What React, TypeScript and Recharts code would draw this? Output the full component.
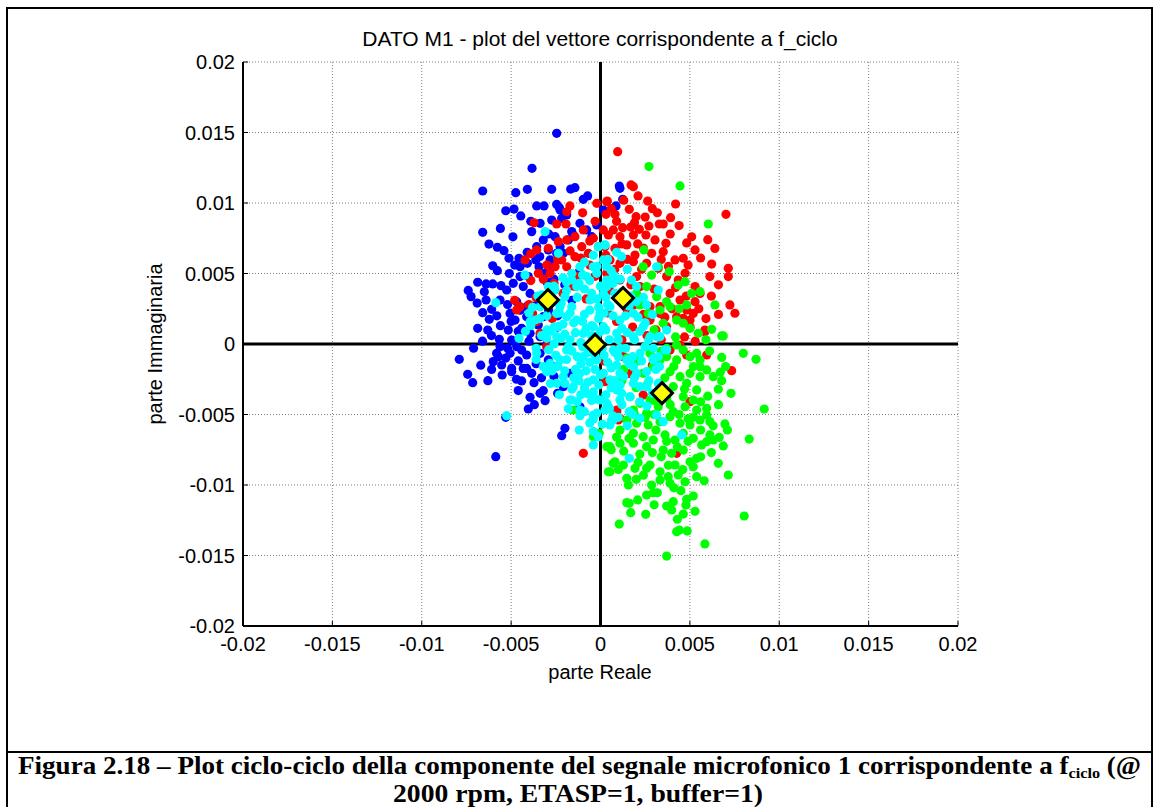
import React from 'react';
import {
  ScatterChart,
  Scatter,
  XAxis,
  YAxis,
  CartesianGrid,
  ReferenceLine,
} from 'recharts';

// all values are in units of 1e-3 (the axis labels show the real numbers)
const axisTicks = [-20, -15, -10, -5, 0, 5, 10, 15, 20];
const tickLabels = ['-0.02', '-0.015', '-0.01', '-0.005', '0', '0.005', '0.01', '0.015', '0.02'];

const blueCycles = [
  [-2.45, 14.94], [-3.83, 12.46], [-6.59, 10.85], [-4.74, 10.73], [-4.09, 10.97], [-2.73, 10.97],
  [-1.67, 10.99], [-1.43, 11.09], [-0.96, 10.26], [-0.72, 10.5], [-5.3, 9.45], [-4.84, 9.57],
  [-4.46, 9.08], [-3.57, 9.79], [-3.16, 9.79], [-2.45, 9.9], [-2.3, 9.67], [-6.59, 7.92],
  [-6.24, 7.09], [-5.77, 6.86], [-5.4, 6.62], [-6.03, 5.55], [-5.77, 5.2], [-6.87, 4.38],
  [-6.4, 4.26], [-6.03, 4.26], [-5.57, 4.14], [-7.24, 3.36], [-6.4, 3.12], [-6.09, 2.46],
  [-6.59, 2.22], [-6.22, 1.75], [-6.87, 1.11], [-6.31, 0.99], [-5.66, 0.33],
  [-5.12, 6.08], [-4.56, 6.08], [-4.09, 5.72], [-3.62, 5.96], [-3.44, 5.48], [-3.1, 5.01],
  [-2.64, 5.48], [-2.92, 6.67], [-2.45, 6.43], [-3.57, 6.9], [-4.5, 4.78], [-4.88, 4.3],
  [-5.25, 3.83], [-4.32, 4.07], [-3.94, 3.59], [-4.69, 3.0], [-4.13, 2.65], [-3.57, 2.77],
  [-3.2, 1.94], [-4.78, 1.7], [-4.41, 1.11], [-3.94, 0.76], [-3.38, 0.52], [-5.06, 2.17],
  [-5.62, 3.12], [-4.5, 5.48], [-4.04, 4.78], [-2.82, 5.96], [-2.26, 6.9], [-1.8, 7.38],
  [-2.08, 6.43], [-1.61, 7.97], [-1.15, 8.56], [-3.2, 7.38], [-3.85, 7.97], [-2.73, 8.79],
  [-2.17, 8.91], [-1.89, 9.15], [-2.26, 9.5], [-3.38, 8.56], [-1.52, 7.73], [-2.54, 7.61],
  [-4.13, 1.94], [-3.48, 1.35], [-5.16, 0.99], [-4.97, 0.28],
  [-7.9, -1.09], [-7.43, -2.15], [-7.15, -2.74], [-6.09, -1.8], [-6.0, -1.25], [-5.71, -0.9],
  [-5.53, -1.49], [-5.81, -0.66], [-5.62, -0.19], [-4.97, -1.73], [-4.97, -1.96], [-4.32, -1.73],
  [-4.13, -1.73], [-3.85, -2.08], [-4.41, -2.62], [-3.72, -2.74], [-3.38, -3.5], [-3.2, -3.31],
  [-3.1, -4.02], [-3.94, -3.78], [-4.04, -4.61], [-5.3, -5.2], [-5.86, -7.99], [-1.99, -5.98],
  [-2.17, -6.5], [-1.15, -4.45], [-4.41, -0.43], [-5.06, -0.66], [-4.69, -0.19], [-4.13, -0.78],
  [-3.38, -0.66], [-2.92, -1.13], [-2.64, -1.61], [-2.08, -3.03], [-1.7, -2.08],
  [1.09, 11.04], [1.24, 10.26], [0.87, 9.79], [0.16, 9.5], [1.05, 11.2], [-0.77, 8.09],
  [-0.49, 7.61], [-0.21, 8.44], [-2.0, 4.2], [-1.6, 3.1], [-2.4, 2.0], [-1.2, 5.1],
  [-2.9, 3.6], [-3.0, 4.4], [-6.9, 2.9], [-7.4, 3.8],
  [-6.6, 0.2], [-6.1, 0.6], [-7.1, -0.3], [-6.7, -1.5], [-5.2, -0.3], [-4.6, -1.2],
  [-3.6, -1.4], [-3.3, -2.4], [-2.6, -2.3], [-2.4, -3.5], [-4.7, -2.5], [-5.5, -2.2],
  [-6.3, -2.6], [-4.6, -3.3], [-3.7, -4.3], [-5.6, 1.3], [-5.0, 1.6], [-4.5, 2.4],
  [-5.2, 2.8], [-5.8, 2.0], [-6.5, 3.7], [-5.1, 5.0], [-4.8, 5.6], [-4.1, 6.5],
  [-3.4, 6.2], [-2.9, 7.8], [-3.9, 8.7], [-4.9, 7.6], [-5.6, 8.2], [-2.6, 4.6],
  [-3.3, 3.1], [-3.9, 2.0], [-2.9, 2.4], [-2.4, 1.2], [-3.0, 0.0], [-4.0, 0.2],
  [-4.6, 0.9], [-5.3, -1.0],
];

const redCycles = [
  [0.96, 13.64], [1.71, 11.28], [1.84, 11.16], [2.64, 10.14], [4.2, 9.93], [0.38, 10.14],
  [1.61, 9.55], [3.18, 9.31], [3.92, 8.96], [7.02, 9.2], [0.31, 9.2], [0.81, 9.2],
  [1.99, 9.03], [3.29, 8.51], [3.51, 8.51], [2.71, 8.37], [2.17, 8.13], [1.69, 8.29],
  [1.24, 8.25], [0.72, 8.09], [2.54, 7.73], [1.84, 7.73], [1.09, 7.61], [0.44, 7.73],
  [3.05, 7.38], [3.66, 7.14], [4.82, 7.17], [5.29, 6.67], [6.4, 6.78], [2.08, 7.1],
  [1.47, 7.03], [0.81, 6.78], [0.25, 6.9], [3.51, 6.55], [2.86, 6.43], [1.93, 6.31],
  [4.17, 5.96], [4.63, 6.08], [6.22, 5.67], [7.15, 5.37], [6.12, 4.78], [7.15, 4.78],
  [7.24, 2.77], [7.52, 2.18], [4.73, 5.01], [4.35, 4.54], [3.7, 4.78], [3.23, 5.37],
  [2.58, 5.72], [1.84, 5.84], [1.09, 5.72], [0.53, 5.96], [5.29, 4.07], [5.57, 3.59],
  [5.29, 3.0], [5.84, 0.99], [5.01, 1.7], [3.89, 3.59], [4.45, 3.12], [3.33, 2.65],
  [4.26, 1.94], [3.7, 1.23], [2.77, 1.7], [2.21, 4.07], [2.02, 4.78], [1.09, 4.54], [0.35, 5.01],
  [-1.71, 9.79], [-1.89, 9.38], [-2.45, 8.51], [-1.93, 8.51], [-3.72, 8.6], [-3.57, 6.67],
  [-4.22, 5.96], [-3.48, 5.01], [-2.82, 5.01], [-2.54, 5.48], [-2.17, 5.96], [-1.89, 5.48],
  [-1.43, 7.61], [-0.96, 8.09], [-0.21, 9.98], [0.35, 10.09], [-0.4, 7.5], [0.16, 8.09],
  [-1.43, 6.19], [-0.68, 6.43], [-0.12, 6.9], [-1.05, 6.9], [-4.69, 2.41], [-3.8, 2.17],
  [-3.57, 1.58], [-1.89, 7.38], [-2.36, 7.26], [-2.92, 6.79],
  [-0.96, -7.75], [0.91, -4.8], [1.09, -5.27], [7.34, -1.89], [5.01, -4.09], [4.26, -7.75],
  [4.45, -0.07], [5.94, -0.78], [0.91, -4.68], [0.99, -5.39], [4.82, -0.78], [3.89, -0.43],
  [2.39, -3.62], [1.84, 2.77], [2.77, 2.65], [3.33, 2.17], [4.82, 2.41], [4.63, 1.82],
  [5.19, 2.17], [5.01, 1.23], [5.84, 0.87], [1.0, -0.31], [1.28, -0.9], [0.25, -2.67],
  [-4.5, 2.65], [-3.38, 0.76], [-3.01, -0.19],
  [-0.8, 3.2], [0.5, 3.8], [1.5, 2.4], [2.2, 2.9], [0.9, 1.6], [1.8, 1.2], [-1.5, 4.1],
  [-0.3, 4.8], [2.6, 0.6], [3.1, 1.0], [1.2, 0.3], [-2.1, 3.6], [0.2, -1.2], [1.6, -2.1], [2.9, -1.5],
  [0.6, 9.6], [1.3, 10.2], [2.1, 10.5], [2.9, 9.6], [0.9, 8.7], [1.9, 8.6], [2.5, 9.0],
  [3.9, 7.8], [4.4, 8.4], [5.1, 7.6], [5.6, 6.1], [6.0, 7.4], [4.9, 5.6], [3.4, 6.0],
  [2.3, 5.3], [1.5, 6.0], [0.8, 5.3], [0.3, 6.3], [1.2, 7.1], [2.4, 6.8], [3.8, 5.5],
  [4.2, 4.0], [4.8, 3.4], [5.5, 2.5], [6.2, 3.4], [6.6, 4.2], [6.6, 2.1], [5.9, 1.8],
  [4.0, 2.5], [3.0, 3.9], [1.7, 4.2], [1.0, 3.2], [0.4, 2.2], [2.4, 2.1], [3.6, 1.9],
  [4.7, 0.5], [5.3, 0.2], [3.4, 0.3], [-0.6, 5.6], [-1.1, 6.1], [-1.7, 6.6], [-2.4, 6.0],
  [-3.0, 5.6], [-3.9, 6.4], [-3.2, 4.6], [-0.3, 8.7], [-1.0, 9.3], [-0.6, 7.3], [-1.3, 4.8],
  [-2.6, 4.3], [-3.6, 3.3], [-4.0, 2.8], [-2.7, 1.8], [-4.8, 3.1], [-3.9, 4.5],
];

const greenCycles = [
  [7.99, -0.66], [8.7, -1.09], [6.78, -0.95], [6.59, -3.21], [6.78, -2.6], [9.16, -4.61],
  [6.96, -5.67], [8.32, -6.74], [6.87, -7.23], [6.64, -6.62], [6.31, -6.81], [6.59, -8.46],
  [7.15, -9.29], [8.04, -12.2], [5.84, -14.18], [3.7, -15.04], [1.05, -12.77], [1.69, -11.96],
  [1.61, -11.3], [2.53, -12.08], [2.08, -11.06], [4.26, -13.31], [4.41, -13.2], [4.85, -13.26],
  [4.3, -12.43], [4.63, -12.06], [5.29, -11.87], [3.7, -11.49], [4.07, -11.18], [3.98, -11.77],
  [4.82, -11.01], [5.19, -10.78], [4.78, -11.42], [2.58, -10.71], [2.95, -10.55], [3.18, -10.55],
  [1.47, -11.25], [2.86, -10.0], [3.33, -9.65], [3.89, -9.88], [4.73, -9.77], [5.38, -9.41],
  [4.35, -9.29], [1.47, -9.53], [1.56, -10.0], [0.53, -9.06], [2.58, -8.82], [3.33, -9.06],
  [3.79, -9.41], [0.81, -8.35], [1.28, -8.58], [1.93, -8.82], [2.77, -8.58], [4.17, -8.58],
  [5.19, -8.7], [5.38, -8.11], [5.01, -8.35], [0.53, -7.28], [1.09, -7.04], [1.84, -7.04],
  [2.58, -7.28], [3.51, -7.52], [3.98, -7.75], [4.63, -7.52], [5.66, -7.16], [1.09, -6.1],
  [1.84, -6.33], [2.39, -6.57], [2.95, -6.81], [3.61, -6.45], [4.17, -6.81], [4.63, -6.33],
  [5.19, -6.69], [5.94, -6.93], [6.12, -6.45], [1.47, -5.39], [2.02, -5.62], [2.67, -5.74],
  [3.33, -5.51], [3.89, -5.16], [4.45, -5.62], [5.01, -5.74], [5.57, -5.39], [6.12, -5.51],
  [5.94, -5.04], [1.84, -4.68], [2.58, -4.92], [3.23, -4.45], [4.07, -4.8], [4.73, -4.45],
  [5.38, -4.68], [5.94, -4.56], [5.19, -3.97], [4.63, -3.74], [3.7, -3.85], [2.77, -3.97],
  [2.21, -4.21], [3.33, -2.79], [4.07, -3.03], [4.82, -2.79], [5.38, -3.26], [5.57, -2.32],
  [5.01, -2.08], [4.45, -2.32], [3.89, -1.96], [5.94, -1.84], [5.57, -1.61], [6.31, -2.32],
  [4.26, -1.13], [5.01, -0.9], [3.7, -0.9], [4.63, -0.43], [5.38, -0.66], [5.57, -1.13],
  [3.7, -0.31], [4.26, -0.07], [2.95, -1.61], [3.33, -1.13], [2.39, -2.08], [2.77, -0.66],
  [-0.31, -6.57], [-0.07, -6.33], [0.35, -7.28], [0.44, -9.06], [-1.56, -4.68], [-0.4, -6.57],
  [0.6, -7.5], [0.71, -8.46],
  [2.71, 12.58], [4.45, 11.21], [6.03, 8.51], [2.43, 6.67], [2.39, 5.48], [2.86, 4.89],
  [3.23, 5.48], [3.85, 5.13], [2.58, 4.07], [3.14, 3.36], [4.35, 4.18], [4.73, 4.42],
  [5.57, 3.71], [5.1, 3.59], [6.4, 2.77], [6.87, 0.57], [6.22, 1.04], [2.02, 3.59],
  [2.21, 2.77], [2.67, 2.18], [3.33, 2.41], [3.89, 2.65], [4.26, 1.7], [4.82, 2.77],
  [5.01, 1.11], [5.47, 0.76], [3.51, 1.47], [4.63, 1.47], [6.78, 0.57],
  [1.5, -1.0], [2.0, -3.1], [1.2, -2.6], [3.0, -5.0], [3.6, -2.4], [4.9, -5.3],
  [2.2, -7.8], [3.4, -8.0], [4.5, -10.4], [2.0, -9.6],
  [1.3, -1.8], [2.1, -1.2], [2.6, -2.9], [3.0, -4.0], [3.9, -4.3], [4.4, -5.0], [5.2, -5.2],
  [5.6, -6.1], [4.9, -6.9], [4.3, -7.3], [3.7, -6.9], [3.1, -6.1], [2.5, -5.2], [1.9, -5.0],
  [1.6, -6.7], [2.1, -8.4], [2.9, -7.7], [3.8, -8.6], [4.6, -8.9], [5.6, -8.0], [6.2, -7.7],
  [5.8, -9.7], [4.1, -10.2], [3.0, -11.4], [2.4, -9.3], [1.0, -8.9], [1.3, -7.6], [0.9, -6.6],
  [6.0, -3.7], [6.6, -4.3], [6.3, -5.8], [7.1, -6.1], [7.3, -3.5], [7.0, -1.6], [6.1, -0.5],
  [5.2, -1.6], [4.1, -1.6], [3.4, -0.5], [2.5, -0.2], [4.7, -3.2], [3.4, -3.4], [5.6, -4.1],
  [6.7, -2.0], [3.0, 1.0], [4.2, 0.5], [5.9, 0.3], [3.7, 3.0], [4.4, 2.5],
];

const cyanCycles = [
  [-3.1, 7.97], [-2.36, 6.43], [-4.22, 4.89], [-5.86, 2.93], [-3.29, 3.48], [-2.92, 4.07],
  [-3.94, 1.58], [-4.56, 0.4], [-3.01, 0.4], [-2.36, 1.23], [-1.89, 1.94], [-1.61, 2.65],
  [-1.99, 3.36], [-1.33, 4.07], [-0.77, 4.78], [-0.4, 5.48], [0.16, 5.96], [-1.15, 5.48],
  [-1.61, 4.54], [-2.26, 2.65], [-2.54, 3.83], [-3.38, 2.65], [-3.66, 1.7], [-2.45, 0.52],
  [-1.33, 1.7], [-0.96, 0.76], [-0.4, 1.23], [-0.03, 2.17], [-0.59, 3.12], [0.16, 3.59],
  [0.35, 4.54], [-0.12, 6.9], [0.25, 7.03], [-0.21, 5.01], [-2.45, 2.17],
  [0.25, 7.02], [1.18, 6.19], [0.72, 4.89], [0.35, 5.48], [1.74, 4.54], [2.02, 4.07],
  [3.14, 5.48], [3.23, 3.83], [2.58, 2.77], [1.84, 2.18], [1.09, 1.7], [2.39, 1.23],
  [3.7, 0.99], [3.33, 0.52], [2.77, 0.52], [1.84, 0.52], [0.35, 4.07], [0.53, 2.65],
  [0.16, 1.23], [0.91, 0.76],
  [-5.25, -5.08], [-3.57, -0.66], [-3.01, -1.96], [-2.45, -2.79], [-1.7, -3.97], [-1.15, -5.08],
  [-1.19, -6.1], [-0.4, -7.16], [-0.12, -6.57], [-0.4, -5.32], [-0.77, -3.5], [-1.52, -3.03],
  [-2.08, -2.32], [-2.82, -1.37], [-2.26, -1.13], [-1.15, -2.08], [-0.4, -2.55], [-0.03, -3.97],
  [-0.96, -0.9], [-0.21, -1.13], [0.16, -2.08], [-1.89, -0.43],
  [1.61, -8.11], [4.54, -6.45], [2.21, -5.27], [3.14, -5.04], [3.51, -5.51], [0.53, -5.74],
  [0.72, -5.39], [1.61, -4.8], [1.18, -3.5], [1.65, -3.74], [2.58, -3.03], [3.23, -2.79],
  [2.02, -2.08], [2.58, -1.96], [2.95, -1.02], [3.61, -0.43], [2.95, -0.31], [2.21, -0.66],
  [1.47, -1.13], [1.09, -2.08], [0.53, -2.55], [0.35, -4.21], [0.25, -4.68], [0.72, -0.43],
  [0.91, -3.26], [1.84, -2.79], [2.95, -1.13], [3.23, -0.9], [3.7, -0.43], [1.84, -1.61],
  [2.21, -3.03], [1.65, -3.74], [1.09, -3.97], [0.44, -4.45], [0.62, -5.39], [-0.4, -5.04],
  [-1.15, -4.68], [-1.61, -3.97],
  [-2.6, 1.2], [-2.2, 0.4], [-1.8, -0.2], [-1.4, 0.8], [-1.0, 1.6], [-0.6, 2.4], [-0.2, 3.2],
  [0.4, 2.8], [0.8, 3.6], [1.3, 2.9], [1.7, 3.4], [2.1, 1.9], [-2.9, -0.4], [-2.4, -1.6],
  [-1.9, -1.1], [-1.5, -2.4], [-1.1, -1.4], [-0.7, -0.6], [-0.3, -1.8], [0.2, -0.8],
  [0.6, -1.7], [1.0, -0.9], [1.4, -0.3], [1.9, 0.3], [2.5, -0.2], [-0.9, -3.1], [-0.5, -4.0],
  [-0.1, -2.9], [0.3, -3.6], [0.8, -2.6], [1.2, -4.3], [-1.3, -4.1], [-2.0, -2.8], [-2.7, -1.9],
  [-3.3, 0.6], [-3.0, 2.0], [-2.5, 3.0], [-1.9, 3.8], [-1.2, 4.3], [-0.6, 4.5], [0.0, 4.1],
  [0.6, 5.2], [1.1, 4.6], [1.5, 5.3], [-0.9, 5.8], [-1.6, 5.0], [-2.1, 4.7], [0.9, 6.5],
  [-0.4, 6.3], [2.4, 3.3], [2.9, 2.1], [3.1, -1.8], [2.7, -2.6], [1.9, -2.4], [2.2, -4.1],
  [-3.6, -1.1], [-3.9, 1.3], [-0.2, 0.5], [0.5, 0.3], [-1.1, 0.1], [1.2, 1.1], [-0.5, 1.3],
  [0.1, -0.3], [-1.6, -0.5], [-2.3, 2.2], [0.7, -5.1], [-0.6, -5.6], [1.5, -5.8],
  [-2.8, 0.9], [-2.5, -0.8], [-2.1, 1.4], [-1.7, 0.3], [-1.3, -0.9], [-0.9, 2.1], [-0.5, 0.6],
  [-0.1, 1.8], [0.3, 1.0], [0.7, 2.0], [1.1, -0.3], [1.5, 0.8], [1.8, -0.9], [2.2, 0.9],
  [-2.0, -1.9], [-1.6, -3.2], [-1.2, -2.6], [-0.8, -1.9], [-0.4, -3.4], [0.0, -2.2], [0.4, -1.3],
  [0.9, -1.5], [1.3, -2.3], [1.6, -1.4], [-2.2, 2.9], [-1.7, 2.2], [-1.3, 3.3], [-0.9, 3.9],
  [-0.5, 3.6], [-0.1, 2.6], [0.3, 3.3], [0.7, 4.3], [1.2, 3.7], [1.6, 2.7], [2.0, 3.0],
  [-2.6, 4.1], [-1.9, 4.4], [-1.0, 4.9], [-0.2, 5.5], [0.4, 6.0], [-3.4, 1.8], [-3.6, -0.3],
  [-3.2, -1.6], [-2.8, -2.8], [-2.3, -3.6], [-1.8, -4.6], [-0.9, -4.8], [-0.2, -4.9], [0.5, -4.6],
  [1.0, -5.2], [1.8, -5.0], [2.6, -4.4], [2.9, -3.5], [3.3, -1.6], [2.7, 0.3], [3.2, 0.5],
  [2.5, 1.5], [-0.7, -2.7], [0.6, -3.1], [-1.4, -1.8], [-2.6, 0.0], [-3.0, 1.0], [-1.0, -0.2],
  [0.0, 0.9], [1.0, 0.3], [-0.3, -0.9], [0.8, -0.6], [-1.5, 1.5], [-0.6, -1.3], [1.4, 2.0],
  [2.3, -1.2], [-2.0, 0.7], [0.2, 2.2], [-0.8, 1.1], [-0.2, -3.9], [1.1, -2.9], [-1.1, -3.6],
  [-0.4, -6.2], [0.1, -5.7], [-3.8, 2.6], [-3.5, 3.4], [-4.2, 0.9], [-4.0, 2.2],
];

// mean vector of each group (yellow diamonds)
const centroids = [
  [-2.94, 3.12],
  [1.26, 3.26],
  [3.44, -3.48],
  [-0.3, -0.05],
];

const toPoints = (list: number[][]) => list.map(([x, y]) => ({ x, y }));

const font = '"Liberation Sans", Arial, sans-serif';

const dot = (color: string) => (props: any) => (
  <circle cx={props.cx} cy={props.cy} r={4.6} fill={color} />
);

const Diamond = (props: any) => {
  const { cx, cy } = props;
  const d = 10.5;
  return (
    <polygon
      points={`${cx},${cy - d} ${cx + d},${cy} ${cx},${cy + d} ${cx - d},${cy}`}
      fill="#FFFF00"
      stroke="#000"
      strokeWidth={3}
    />
  );
};

const fmt = (v: number) => tickLabels[axisTicks.indexOf(v)] ?? String(v);
const noTick = () => <text />;

export default function App() {
  return (
    <div style={{ position: 'absolute', left: 0, top: 0, width: 1156, height: 807, background: '#fff', overflow: 'hidden' }}>
      {/* outer frame and caption separator */}
      <div style={{ position: 'absolute', left: 6, top: 7, width: 1143, height: 900, border: '2px solid #000' }} />
      <div style={{ position: 'absolute', left: 6, top: 751, width: 1147, height: 2, background: '#000' }} />

      <div style={{ position: 'absolute', left: 0, top: 0 }}>
        <ScatterChart width={1156} height={700} margin={{ top: 62, right: 198, bottom: 44, left: 183 }}>
          <CartesianGrid stroke="#808080" strokeDasharray="1 2" />
          <XAxis
            type="number"
            dataKey="x"
            domain={[-20, 20]}
            ticks={axisTicks}
            tickFormatter={fmt}
            interval={0}
            allowDataOverflow
            axisLine={{ stroke: '#000', strokeWidth: 2 }}
            tickLine={{ stroke: '#000' }}
            tickSize={-5}
            tickMargin={16}
            tick={{ fill: '#000', fontSize: 20, fontFamily: font }}
          />
          <YAxis
            type="number"
            dataKey="y"
            domain={[-20, 20]}
            ticks={axisTicks}
            tickFormatter={fmt}
            interval={0}
            allowDataOverflow
            axisLine={{ stroke: '#000', strokeWidth: 2 }}
            tickLine={{ stroke: '#000' }}
            tickSize={-5}
            tickMargin={13}
            tick={{ fill: '#000', fontSize: 20, fontFamily: font }}
          />
          <XAxis
            xAxisId="top"
            orientation="top"
            type="number"
            domain={[-20, 20]}
            ticks={axisTicks}
            height={0}
            axisLine={{ stroke: '#000', strokeWidth: 2 }}
            tickLine={{ stroke: '#000' }}
            tickSize={-5}
            tick={noTick}
          />
          <YAxis
            yAxisId="right"
            orientation="right"
            type="number"
            domain={[-20, 20]}
            ticks={axisTicks}
            width={0}
            axisLine={{ stroke: '#000', strokeWidth: 2 }}
            tickLine={{ stroke: '#000' }}
            tickSize={-5}
            tick={noTick}
          />
          <Scatter data={toPoints(blueCycles)} shape={dot('#0000FF')} isAnimationActive={false} />
          <Scatter data={toPoints(redCycles)} shape={dot('#FF0000')} isAnimationActive={false} />
          <Scatter data={toPoints(greenCycles)} shape={dot('#00FF00')} isAnimationActive={false} />
          <Scatter data={toPoints(cyanCycles)} shape={dot('#00FFFF')} isAnimationActive={false} />
          <ReferenceLine x={0} stroke="#000" strokeWidth={3} />
          <ReferenceLine y={0} stroke="#000" strokeWidth={3} />
          <Scatter data={toPoints(centroids)} shape={Diamond} isAnimationActive={false} />
        </ScatterChart>
      </div>

      {/* title, axis labels and figure caption */}
      <svg width={1156} height={807} style={{ position: 'absolute', left: 0, top: 0, pointerEvents: 'none' }}>
        <text x={600} y={46} textAnchor="middle" fontSize={21} fontFamily={font} fill="#000">
          DATO M1 - plot del vettore corrispondente a f_ciclo
        </text>
        <text x={600} y={679} textAnchor="middle" fontSize={20} fontFamily={font} fill="#000">
          parte Reale
        </text>
        <text
          x={0}
          y={0}
          transform="translate(162,344) rotate(-90)"
          textAnchor="middle"
          fontSize={20}
          fontFamily={font}
          fill="#000"
        >
          parte Immaginaria
        </text>
        <text
          x={18}
          y={774}
          fontSize={25}
          fontWeight="bold"
          fontFamily='"Liberation Serif", "Times New Roman", serif'
          fill="#000"
          textLength={1123}
          lengthAdjust="spacingAndGlyphs"
        >
          <tspan>{'Figura 2.18 –   Plot ciclo-ciclo della componente del segnale microfonico 1 corrispondente a f'}</tspan>
          <tspan fontSize={15} dy={4}>ciclo</tspan>
          <tspan dy={-4}>{' (@'}</tspan>
        </text>
        <text
          x={578}
          y={802}
          textAnchor="middle"
          fontSize={25}
          fontWeight="bold"
          fontFamily='"Liberation Serif", "Times New Roman", serif'
          fill="#000"
          textLength={370}
          lengthAdjust="spacingAndGlyphs"
        >
          2000 rpm, ETASP=1, buffer=1)
        </text>
      </svg>
    </div>
  );
}
